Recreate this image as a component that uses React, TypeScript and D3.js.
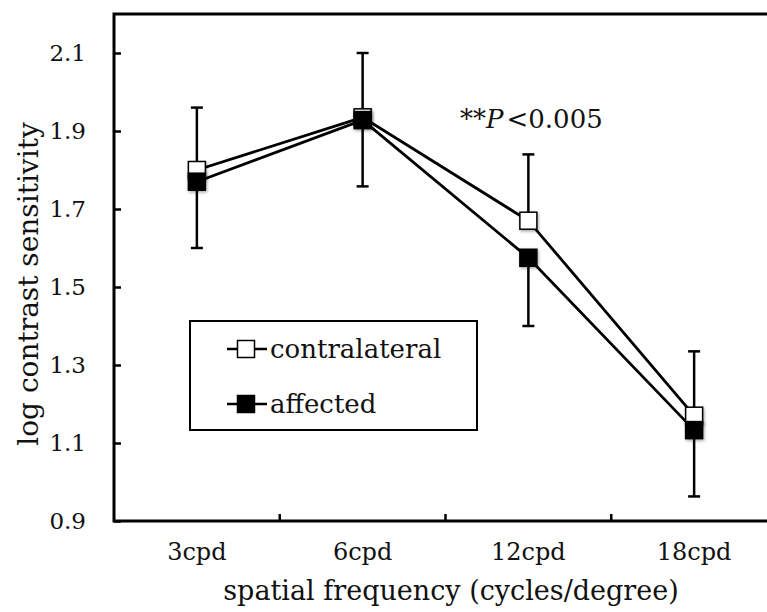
import React, { useEffect, useRef } from 'react';
import * as d3 from 'd3';

const categories = ['3cpd', '6cpd', '12cpd', '18cpd'];
const contralateral = [1.8, 1.935, 1.67, 1.17];
const contralateralErr = [0.16, 0.165, 0.17, 0.165];
const affected = [1.77, 1.928, 1.575, 1.133];
const affectedErr = [0.17, 0.17, 0.175, 0.17];
const yTicks = [0.9, 1.1, 1.3, 1.5, 1.7, 1.9, 2.1];
const legendLabels = ['contralateral', 'affected'];

const App: React.FC = () => {
  const svgRef = useRef<SVGSVGElement>(null);
  const width = 767;
  const height = 612;

  useEffect(() => {
    if (!svgRef.current) return;
    const svg = d3.select(svgRef.current);
    svg.selectAll('*').remove();

    const font = '"DejaVu Serif", serif';
    const left = 114, top = 14, bottom = 521, right = 777;

    const x = d3.scaleBand<string>().domain(categories).range([left, right]);
    const y = d3.scaleLinear().domain([0.9, 2.2]).range([bottom, top]);
    const cx = (c: string) => (x(c) || 0) + x.bandwidth() / 2;

    // тень маркеров
    const defs = svg.append('defs');
    defs.append('filter').attr('id', 'shadow')
      .attr('x', '-50%').attr('y', '-50%').attr('width', '200%').attr('height', '200%')
      .append('feDropShadow')
      .attr('dx', 1).attr('dy', 1.5).attr('stdDeviation', 1.5)
      .attr('flood-color', '#000').attr('flood-opacity', 0.35);

    // рамка
    svg.append('rect')
      .attr('x', left).attr('y', top)
      .attr('width', right - left).attr('height', bottom - top)
      .attr('fill', 'none').attr('stroke', '#000').attr('stroke-width', 3);

    // ось Y
    const yAxis = svg.append('g')
      .attr('transform', `translate(${left},0)`)
      .call(d3.axisLeft(y).tickValues(yTicks).tickFormat(d3.format('.1f'))
        .tickSizeInner(-7).tickSizeOuter(0).tickPadding(28));
    yAxis.select('.domain').remove();
    yAxis.selectAll('line').attr('stroke', '#000').attr('stroke-width', 2.5);
    yAxis.selectAll('text').attr('font-family', font).attr('font-size', 23).attr('fill', '#111');

    // ось X
    const xAxis = svg.append('g')
      .attr('transform', `translate(0,${bottom})`)
      .call(d3.axisBottom(x).tickSize(0).tickPadding(22));
    xAxis.select('.domain').remove();
    xAxis.selectAll('text').attr('font-family', font).attr('font-size', 24).attr('fill', '#111');

    svg.append('g').selectAll('line')
      .data(categories.slice(1))
      .join('line')
      .attr('x1', d => x(d) || 0).attr('x2', d => x(d) || 0)
      .attr('y1', bottom).attr('y2', bottom - 7)
      .attr('stroke', '#000').attr('stroke-width', 2.5);

    // подписи осей
    svg.append('text')
      .attr('x', 451).attr('y', 600)
      .attr('text-anchor', 'middle')
      .attr('font-family', font).attr('font-size', 27).attr('fill', '#111')
      .text('spatial frequency (cycles/degree)');

    svg.append('text')
      .attr('transform', `translate(38,284) rotate(-90)`)
      .attr('text-anchor', 'middle')
      .attr('font-family', font).attr('font-size', 28).attr('fill', '#111')
      .text('log contrast sensitivity');

    // планки погрешностей
    const cap = 6;
    const errG = svg.append('g').attr('stroke', '#000').attr('stroke-width', 2.5);
    categories.forEach((c, i) => {
      const up = y(contralateral[i] + contralateralErr[i]);
      const down = y(affected[i] - affectedErr[i]);
      errG.append('line').attr('x1', cx(c)).attr('x2', cx(c))
        .attr('y1', y(contralateral[i])).attr('y2', up);
      errG.append('line').attr('x1', cx(c) - cap).attr('x2', cx(c) + cap)
        .attr('y1', up).attr('y2', up);
      errG.append('line').attr('x1', cx(c)).attr('x2', cx(c))
        .attr('y1', y(affected[i])).attr('y2', down);
      errG.append('line').attr('x1', cx(c) - cap).attr('x2', cx(c) + cap)
        .attr('y1', down).attr('y2', down);
    });

    const size = 17;
    const series = [
      { values: contralateral, fill: '#fff' },
      { values: affected, fill: '#000' },
    ];

    series.forEach(s => {
      svg.append('path')
        .datum(s.values)
        .attr('fill', 'none')
        .attr('stroke', '#000')
        .attr('stroke-width', 2.8)
        .attr('d', d3.line<number>()
          .x((_, i) => cx(categories[i]))
          .y(d => y(d)));
    });

    series.forEach(s => {
      svg.append('g').selectAll('rect')
        .data(s.values)
        .join('rect')
        .attr('x', (_, i) => cx(categories[i]) - size / 2)
        .attr('y', d => y(d) - size / 2)
        .attr('width', size).attr('height', size)
        .attr('fill', s.fill)
        .attr('stroke', '#000').attr('stroke-width', 1.5)
        .attr('filter', 'url(#shadow)');
    });

    // аннотация
    const note = svg.append('text')
      .attr('x', 460).attr('y', 128)
      .attr('font-family', font).attr('font-size', 26).attr('fill', '#111');
    note.append('tspan').text('**');
    note.append('tspan').attr('font-style', 'italic').text('P');
    note.append('tspan').attr('dx', 3).text('<0.005');

    // легенда
    const legend = svg.append('g');
    legend.append('rect')
      .attr('x', 190).attr('y', 321).attr('width', 287).attr('height', 109)
      .attr('fill', '#fff').attr('stroke', '#000').attr('stroke-width', 2);
    legendLabels.forEach((label, i) => {
      const ly = 349 + i * 55;
      legend.append('line')
        .attr('x1', 227).attr('x2', 267).attr('y1', ly).attr('y2', ly)
        .attr('stroke', '#000').attr('stroke-width', 2.5);
      legend.append('rect')
        .attr('x', 246 - size / 2).attr('y', ly - size / 2)
        .attr('width', size).attr('height', size)
        .attr('fill', series[i].fill).attr('stroke', '#000').attr('stroke-width', 1.5);
      legend.append('text')
        .attr('x', 270).attr('y', ly + 9)
        .attr('font-family', font).attr('font-size', 26).attr('fill', '#111')
        .text(label);
    });
  }, []);

  return (
    <>
      <style>{'body{margin:0}'}</style>
      <svg ref={svgRef} width={width} height={height} style={{ display: 'block', background: '#fff' }} />
    </>
  );
};

export default App;
